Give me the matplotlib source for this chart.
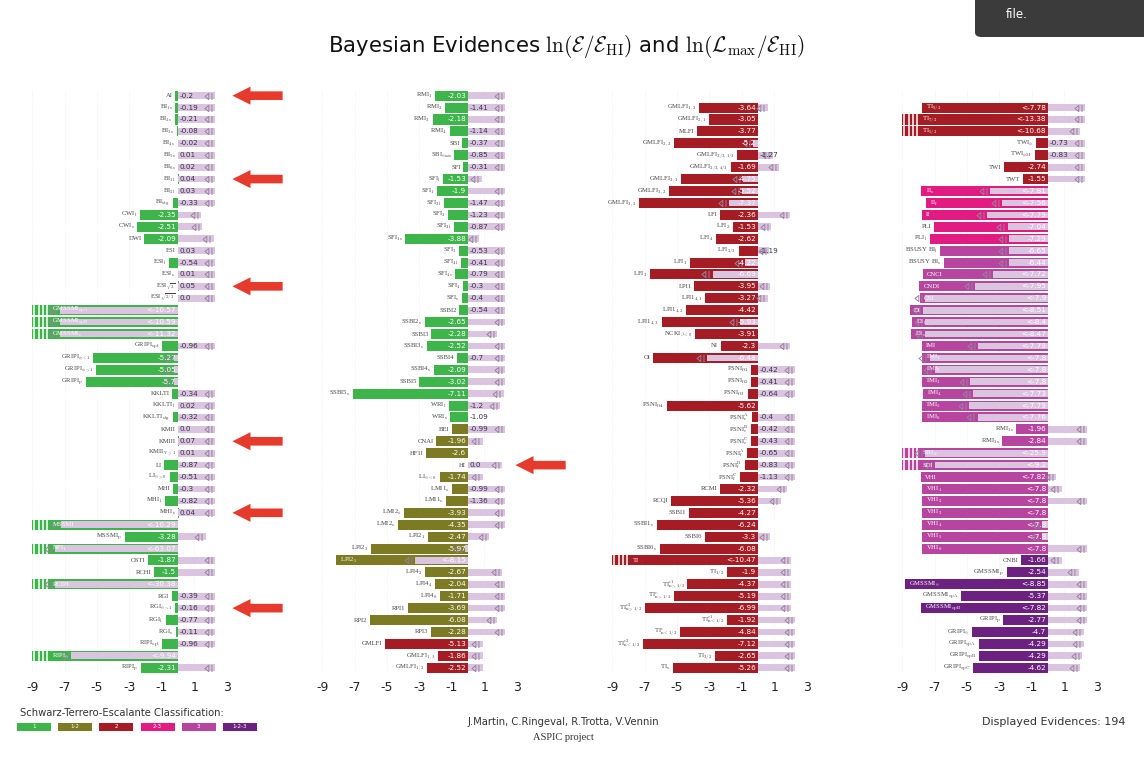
import matplotlib
matplotlib.use("Agg")
import matplotlib.pyplot as plt
from matplotlib.path import Path
from matplotlib.patches import Rectangle, FancyBboxPatch

plt.rcParams.update({
    "axes.unicode_minus": False,
    "mathtext.fontset": "cm",
    "mathtext.default": "rm",
})

# ---------------------------------------------------------------- data
names1 = ['AI', 'BI_{1s}', 'BI_{2s}', 'BI_{3s}', 'BI_{4s}', 'BI_{5s}', 'BI_{6s}', 'BI_{1l}', 'BI_{2l}', 'BI_{stg}',
          'CWI_{l}', 'CWI_{s}', 'DWI',
          'ESI', 'ESI_{l}', 'ESI_{o}', r'ESI_{\sqrt{2}}', r'ESI_{\sqrt{2/3}}',
          'GMSSMI_{opA}', 'GMSSMI_{opB}', 'GMSSMI_{s}',
          'GRIPI_{opt}', r'GRIPI_{\phi<1}', r'GRIPI_{\phi>1}', 'GRIPI_{p}',
          'KKLTI', 'KKLTI_{l}', 'KKLTI_{stg}',
          'KMII', 'KMIII', 'KMII_{V>1}',
          'LI', r'LI_{\alpha>0}',
          'MHI', 'MHI_{l}', 'MHI_{s}',
          'MSSMI', 'MSSMI_{p}', 'NFI_{1}',
          'OSTI', 'RCHI', 'RCIPI',
          'RGI', r'RGI_{\alpha>1}', 'RGI_{l}', 'RGI_{s}',
          'RIPI_{opt}', r'RIPI_{\alpha}', 'RIPI_{p}']
evid1 = ['-0.2', '-0.19', '-0.21', '-0.08', '-0.02', '0.01', '0.02', '0.04', '0.03', '-0.33',
         '-2.35', '-2.51', '-2.09',
         '0.03', '-0.54', '0.01', '0.05', '0.0',
         '<-10.57', '<-10.59', '<-11.32',
         '-0.96', '-5.27', '-5.05', '-5.7',
         '-0.34', '0.02', '-0.32',
         '0.0', '0.07', '0.01',
         '-0.87', '-0.51',
         '-0.3', '-0.82', '0.04',
         '<-10.29', '-3.28', '<-63.07',
         '-1.87', '-1.5', '<-30.38',
         '-0.39', '-0.16', '-0.77', '-0.11',
         '-0.96', '<-9.94', '-2.31']
lmax1 = [2.3, 2.3, 2.3, 2.3, 2.3, 2.3, 2.3, 2.3, 2.3, 2.3,
         1.45, 1.5, 2.2,
         2.3, 2.3, 2.3, 2.3, 2.3,
         -7.3, -7.3, -7.3,
         2.3, -0.25, -0.25, -0.25,
         2.3, 2.3, 2.3,
         2.3, 2.3, 2.3,
         2.3, 2.3,
         2.3, 2.3, 2.3,
         -7.2, 1.7, -7.6,
         2.3, 2.3, -7.6,
         2.3, 2.3, 2.3, 2.3,
         2.3, -6.6, 2.3]
class1 = ['1'] * 49

names2 = ['RMI_{1}', 'RMI_{2}', 'RMI_{3}', 'RMI_{4}', 'SBI', r'SBI_{\alpha_{min}}',
          'SFI', 'SFI_{l}', 'SFI_{1}', 'SFI_{2l}', 'SFI_{2}', 'SFI_{3l}', 'SFI_{1s}', 'SFI_{3}',
          'SFI_{4l}', 'SFI_{4s}', 'SFI_{4}', 'SFI_{s}',
          'SSBI2', 'SSBI2_{s}', 'SSBI3', 'SSBI3_{s}', 'SSBI4', 'SSBI4_{s}', 'SSBI5', 'SSBI5_{s}',
          'WRI_{l}', 'WRI_{s}',
          'BEI', 'CNAI', 'HF1I', 'HI', r'LI_{\alpha<0}',
          'LMI1_{o}', 'LMI1_{s}', 'LMI2_{o}', 'LMI2_{s}',
          'LPI2_{1}', 'LPI2_{3}', 'LPI2_{5}', 'LPI4_{2}', 'LPI4_{4}', 'LPI4_{6}',
          'RPI1', 'RPI2', 'RPI3',
          'GMLFI', 'GMLFI_{1,1}', 'GMLFI_{1,2}']
evid2 = ['-2.03', '-1.41', '-2.18', '-1.14', '-0.37', '-0.85',
         '-0.31', '-1.53', '-1.9', '-1.47', '-1.23', '-0.87', '-3.88', '-0.53',
         '-0.41', '-0.79', '-0.3', '-0.4',
         '-0.54', '-2.65', '-2.28', '-2.52', '-0.7', '-2.09', '-3.02', '-7.11',
         '-1.2', '-1.09',
         '-0.99', '-1.96', '-2.6', '0.0', '-1.74',
         '-0.99', '-1.36', '-3.93', '-4.35',
         '-2.47', '-5.97', '<-8.15', '-2.67', '-2.04', '-1.71',
         '-3.69', '-6.08', '-2.28',
         '-5.13', '-1.86', '-2.52']
lmax2 = [2.3, 2.3, 2.3, 2.3, 2.3, 2.3,
         2.3, 0.85, 2.3, 2.3, 2.3, 2.3, 0.7, 2.3,
         2.3, 2.3, 2.3, 2.3,
         2.3, 2.3, 1.8, 2.3, 2.3, 2.3, 2.3, 2.2,
         2.0, None,
         2.3, 0.9, None, 2.1, 0.9,
         2.3, 2.3, 2.3, 2.3,
         1.3, -0.2, -3.25, 2.1, 2.3, 2.3,
         2.3, 1.8, 2.3,
         0.9, 0.9, 0.9]
class2 = ['1'] * 28 + ['1-2'] * 18 + ['2'] * 3

names3 = ['GMLFI_{1,3}', 'GMLFI_{2,1}', 'MLFI', 'GMLFI_{2,2}', 'GMLFI_{2/3,1/3}', 'GMLFI_{2/3,4/3}',
          'GMLFI_{3,1}', 'GMLFI_{3,2}', 'GMLFI_{3,3}',
          'LFI', 'LFI_{2}', 'LFI_{4}', 'LFI_{2/3}', 'LFI_{1}', 'LFI_{3}',
          'LPI1', 'LPI1_{4,1}', 'LPI1_{4,2}', 'LPI1_{4,3}',
          r'NCKI_{\beta<0}', 'NI', 'OI',
          'PSNI_{ft1}', 'PSNI_{ft2}', 'PSNI_{ft3}', 'PSNI_{ft4}',
          'PSNI^{A}_{e}', 'PSNI^{B}_{e}', 'PSNI^{C}_{e}', 'PSNI^{A}_{f}', 'PSNI^{B}_{f}', 'PSNI^{C}_{f}',
          'RCMI', 'RCQI', 'SSBI1', 'SSBI1_{s}', 'SSBI6', 'SSBI6_{s}',
          'TI', 'TI_{1/2}', 'TI^{c1}_{n>1/2}', 'TI^{c}_{n>1/2}', 'TI^{c2}_{n>1/2}',
          'TI^{c1}_{n<1/2}', 'TI^{c}_{n<1/2}', 'TI^{c2}_{n<1/2}', 'TI_{3/2}', 'TI_{s}']
evid3 = ['-3.64', '-3.05', '-3.77', '-5.2', '-1.27', '-1.69',
         '-4.75', '-5.52', '-7.37',
         '-2.36', '-1.53', '-2.62', '-1.19', '-4.22', '-6.69',
         '-3.95', '-3.27', '-4.42', '-5.93',
         '-3.91', '-2.3', '-6.48',
         '-0.42', '-0.41', '-0.64', '-5.62',
         '-0.4', '-0.42', '-0.43', '-0.65', '-0.83', '-1.13',
         '-2.32', '-5.36', '-4.27', '-6.24', '-3.3', '-6.08',
         '<-10.47', '-1.9', '-4.37', '-5.19', '-6.99',
         '-1.92', '-4.84', '-7.12', '-2.65', '-5.26']
lmax3 = [0.6, None, None, -0.3, 0.9, 1.3,
         -0.9, -1.0, -1.8,
         2.0, 0.8, None, 0.7, -0.8, -2.8,
         0.75, 0.6, None, -1.1,
         None, 2.0, -3.15,
         2.3, 2.3, 2.3, None,
         2.3, 2.3, 2.3, 2.3, 2.3, 2.3,
         1.8, 1.4, None, None, 0.75, None,
         2.05, 2.05, 2.05, 2.05, 2.05,
         2.3, 2.3, 2.3, 2.3, 2.3]
class3 = ['2'] * 48

names4 = ['TI_{9/2}', 'TI_{7/2}', 'TI_{5/2}',
          r'TWI_{\phi}', r'TWI_{\phi M}', 'TWI', 'TWT',
          'II_{s}', 'II_{f}', 'II',
          'PLI', 'PLI_{l}', 'BSUSY BI_{l}', 'BSUSY BI_{s}',
          'CNCI', 'CNDI', 'CSI', 'DI', 'DI_{l}', 'DI_{s}',
          'IMI', 'IMI_{1}', 'IMI_{2}', 'IMI_{3}', 'IMI_{4}', 'IMI_{5}', 'IMI_{6}',
          'RMI_{1s}', 'RMI_{3s}', r'SBI_{\infty}', 'SDI',
          'VHI', 'VHI_{1}', 'VHI_{2}', 'VHI_{3}', 'VHI_{4}', 'VHI_{5}', 'VHI_{6}',
          'CNBI', 'GMSSMI_{p}', r'GMSSMI_{\alpha}', 'GMSSMI_{opA}', 'GMSSMI_{opB}',
          'GRIPI_{p}', r'GRIPI_{\alpha}', 'GRIPI_{opA}', 'GRIPI_{opB}', 'GRIPI_{opC}']
evid4 = ['<-7.78', '<-13.38', '<-10.68',
         '-0.73', '-0.83', '-2.74', '-1.55',
         '<-7.81', '<-7.56', '<-7.79',
         '-7.04', '-7.29', '-6.65', '-6.44',
         '<-7.72', '<-7.95', '<-7.9', '<-8.51', '<-8.4', '<-8.47',
         '<-7.79', '<-7.8', '<-7.8', '<-7.8', '<-7.73', '<-7.79', '<-7.76',
         '-1.96', '-2.84', '<-25.9', '<-9.2',
         '<-7.82', '<-7.8', '<-7.8', '<-7.8', '<-7.8', '<-7.8', '<-7.8',
         '-1.66', '-2.54', '<-8.85', '-5.37', '<-7.82',
         '-2.77', '-4.7', '-4.29', '-4.29', '-4.62']
lmax4 = [2.3, 2.3, 2.0,
         2.3, 2.3, 2.3, 2.3,
         -3.55, -2.85, -3.75,
         -2.5, -2.4, -2.4, -2.4,
         -3.4, -4.5, -7.6, -7.7, -7.6, -7.6,
         -4.3, -7.3, -7.0, -4.8, -4.6, -4.85, -4.35,
         2.4, 2.4, -7.6, -7.0,
         0.5, 0.85, 2.4, None, -0.35, -0.4, 2.4,
         0.85, 1.9, 2.4, 2.4, 2.4,
         2.4, 2.2, 2.2, 2.1, 2.0]
class4 = ['2'] * 7 + ['2-3'] * 5 + ['3'] * 26 + ['1-2-3'] * 10

highlighted = ['AI', 'BI_{1l}', r'ESI_{\sqrt{2}}', 'KMIII', 'MHI_{s}', r'RGI_{\alpha>1}', 'HI']

class_names = ['1', '1-2', '2', '2-3', '3', '1-2-3']
class_colors = ['#3db54b', '#7d7a24', '#a51c24', '#e21b82', '#b7459f', '#6c2180']
CLASS_COLOR = dict(zip(class_names, class_colors))

# ---------------------------------------------------------------- style
LMAX_COLOR = '#dac4df'
MARK_COLOR = '#9a82a0'
ARROW_RED = '#e63a2c'
XMIN, XMAX = -9, 3
DARK_H, LIGHT_H = 0.84, 0.56

MARK = Path([(0.05, 0.45), (-0.5, 0.0), (0.05, -0.45), (0.05, 0.45), (0.5, 0.5), (0.5, -0.5)],
            [Path.MOVETO, Path.LINETO, Path.LINETO, Path.CLOSEPOLY, Path.MOVETO, Path.LINETO])


def tex(name):
    cut = [k for k in (name.find('_'), name.find('^')) if k >= 0]
    if not cut:
        return name
    i = min(cut)
    return name[:i] + '${}' + name[i:] + '$'


def draw_panel(ax, names, evid, lmax, classes, arrow_tip):
    n = len(names)
    for k, (nm, ev, lm, c) in enumerate(zip(names, evid, lmax, classes)):
        y = n - 1 - k
        bound = ev.startswith('<')
        v = float(ev.lstrip('<'))
        col = CLASS_COLOR[c]
        ax.barh(y, v, height=DARK_H, color=col, lw=0, zorder=2)
        if v < XMIN:
            for j in range(4):
                xs = XMIN + 0.13 + 0.26 * j
                ax.plot([xs, xs], [y - DARK_H / 2, y + DARK_H / 2], color='white',
                        lw=1.1, solid_capstyle='butt', zorder=3)
        if lm is not None:
            ax.barh(y, lm, height=LIGHT_H, color=LMAX_COLOR, lw=0, zorder=3)
            ax.plot(lm - 0.45, y, marker=MARK, ms=5, mfc='none', mec=MARK_COLOR,
                    mew=0.7, ls='none', zorder=4, clip_on=False)
        if v > -1.5 and not bound:
            ax.text(0.12, y, ev, ha='left', va='center', fontsize=5.2,
                    color='#35304a', zorder=5)
        else:
            ax.text(-0.12, y, ev, ha='right', va='center', fontsize=5.2,
                    color='white', zorder=5)
        if v < -7.5:
            x0 = XMIN + 1.25 if v < XMIN else v + 0.25
            ax.text(x0, y, tex(nm), ha='left', va='center', fontsize=4.8,
                    color='white', family='Liberation Serif', zorder=5)
        else:
            ax.text(min(v, 0) - 0.15, y, tex(nm), ha='right', va='center',
                    fontsize=4.8, color='#444444', family='Liberation Serif', zorder=5)
        if nm in highlighted:
            ax.annotate('', xy=(arrow_tip, y), xytext=(arrow_tip + 3.1, y),
                        arrowprops=dict(arrowstyle='simple,head_length=1.3,head_width=1.3,tail_width=0.62',
                                        fc=ARROW_RED, ec='none', mutation_scale=10,
                                        shrinkA=0, shrinkB=0),
                        annotation_clip=False)

    ax.set_xlim(XMIN, XMAX)
    ax.set_ylim(-0.5, 48.5)
    ax.set_xticks([-9, -7, -5, -3, -1, 1, 3])
    ax.set_yticks([])
    ax.tick_params(axis='x', length=0, pad=5, labelsize=9, labelcolor='#222222')
    ax.grid(axis='x', color='#ededed', ls=':', lw=0.6)
    ax.set_axisbelow(True)
    for s in ax.spines.values():
        s.set_visible(False)


W, H = 1144, 757
fig = plt.figure(figsize=(W / 100, H / 100), dpi=100)

panels = [(names1, evid1, lmax1, class1, 3.36),
          (names2, evid2, lmax2, class2, 2.93),
          (names3, evid3, lmax3, class3, 3.2),
          (names4, evid4, lmax4, class4, 3.2)]
ax_w = 194.4 / W
ax_bottom = (H - 673.7) / H
ax_h = (673.7 - 89.7) / H
for i, (nm, ev, lm, cl, tip) in enumerate(panels):
    left = (32.2 + 290 * i) / W
    ax = fig.add_axes([left, ax_bottom, ax_w, ax_h])
    draw_panel(ax, nm, ev, lm, cl, tip)

fig.text(0.4948, 0.938,
         r'Bayesian Evidences $\ln(\mathcal{E}/\mathcal{E}_{\rm HI})$ and '
         r'$\ln(\mathcal{L}_{\rm max}/\mathcal{E}_{\rm HI})$',
         ha='center', va='center', fontsize=15.3, color='#111111')

# classification legend
fig.text(20 / W, (H - 713) / H, 'Schwarz-Terrero-Escalante Classification:',
         ha='left', va='center', fontsize=7.2, color='#333333')
for j, (cn, cc) in enumerate(zip(class_names, class_colors)):
    cx = (34 + 41.2 * j) / W
    bw, bh = 34 / W, 8 / H
    fig.add_artist(Rectangle((cx - bw / 2, (H - 727) / H - bh / 2), bw, bh,
                             transform=fig.transFigure, color=cc, lw=0))
    fig.text(cx, (H - 727) / H, cn, ha='center', va='center', fontsize=4, color='white')

fig.text(563 / W, (H - 722) / H, 'J.Martin, C.Ringeval, R.Trotta, V.Vennin',
         ha='center', va='center', fontsize=7.2, color='#333333')
fig.text(563 / W, (H - 738) / H, 'ASPIC project', ha='center', va='center',
         fontsize=7.5, color='#333333', family='Liberation Serif')
total = len(evid1) + len(evid2) + len(evid3) + len(evid4)
fig.text(1126 / W, (H - 722) / H, f'Displayed Evidences: {total}',
         ha='right', va='center', fontsize=8, color='#333333')

# tooltip box in the upper right corner
fig.add_artist(FancyBboxPatch((975 / W, (H - 37) / H), 0.2, 0.1,
                              boxstyle='round,pad=0,rounding_size=0.006',
                              transform=fig.transFigure, fc='#3b3b3b', ec='none'))
fig.text(1017 / W, (H - 14) / H, 'file.', ha='center', va='center',
         fontsize=8.5, color='white')

fig.savefig('out.png', dpi=100)
